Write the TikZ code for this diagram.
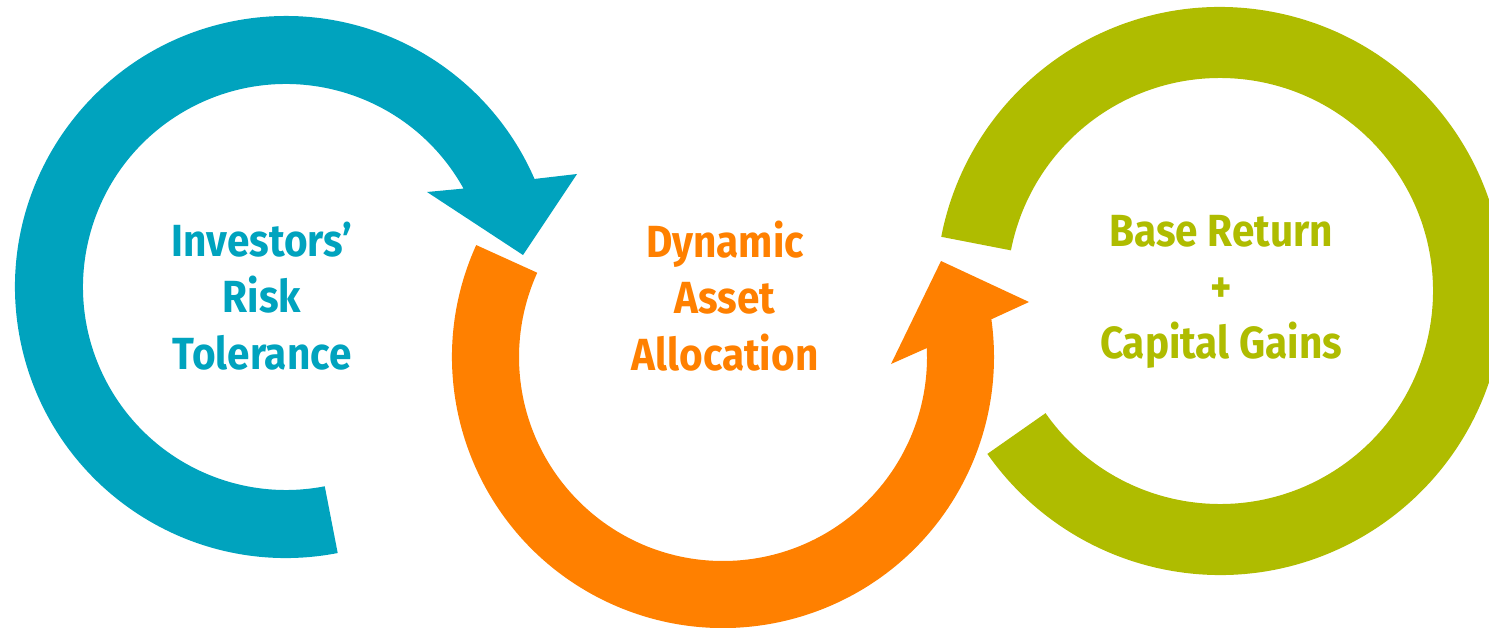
\documentclass[tikz,border=0pt]{standalone}
\usepackage{fontspec}
\setmainfont{Fira Sans}
\newfontfamily\ringfont{Fira Sans}[FakeStretch=0.9]
\usepackage{tikz}
\definecolor{ringteal}{HTML}{00A3BE}
\definecolor{ringorange}{HTML}{FF8000}
\definecolor{ringgreen}{HTML}{AFBC00}
\tikzstyle{ringtext} = [align=center, inner sep=0pt, font=\ringfont\bfseries\fontsize{12.8}{16}\selectfont]

\begin{document}
\begin{tikzpicture}[x=0.01cm, y=0.01cm]
\useasboundingbox (0,0) rectangle (1489,627);
\coordinate (tcent) at (286,340);
\coordinate (ocent) at (723,270);
\coordinate (gcent) at (1220,336);
% Draw the rings
\begin{scope}[shift={(tcent)}]
\fill [ringteal] (29:203) arc[start angle=29, end angle=281, radius=203] -- (281:271) arc[start angle=281, end angle=23.5, radius=271] -- (291,113) -- (237,32) -- (141,95) -- cycle;
\end{scope}
\begin{scope}[shift={(ocent)}]
\fill [ringorange] (362.5:204) arc[start angle=362.5, end angle=155.6, radius=204] -- (155.6:271) arc[start angle=155.6, end angle=368, radius=271] -- (306,55) -- (218,96) -- (168,-7) -- cycle;
\end{scope}
\begin{scope}[shift={(gcent)}]
\fill [ringgreen] (-145:213) arc[start angle=-145, end angle=169, radius=213] -- (169:284) arc[start angle=169, end angle=-145, radius=284] -- cycle;
\end{scope}
% Draw the texts
\node [ringtext, text=ringteal] (risk) at (262,331) {Investors’\\Risk\\Tolerance};
\node [ringtext, text=ringorange] (alloc) at (725,331) {Dynamic\\Asset\\Allocation};
\node [ringtext, text=ringgreen] (gains) at (1221,335) {Base Return\\+\\Capital Gains};
\end{tikzpicture}
\end{document}
